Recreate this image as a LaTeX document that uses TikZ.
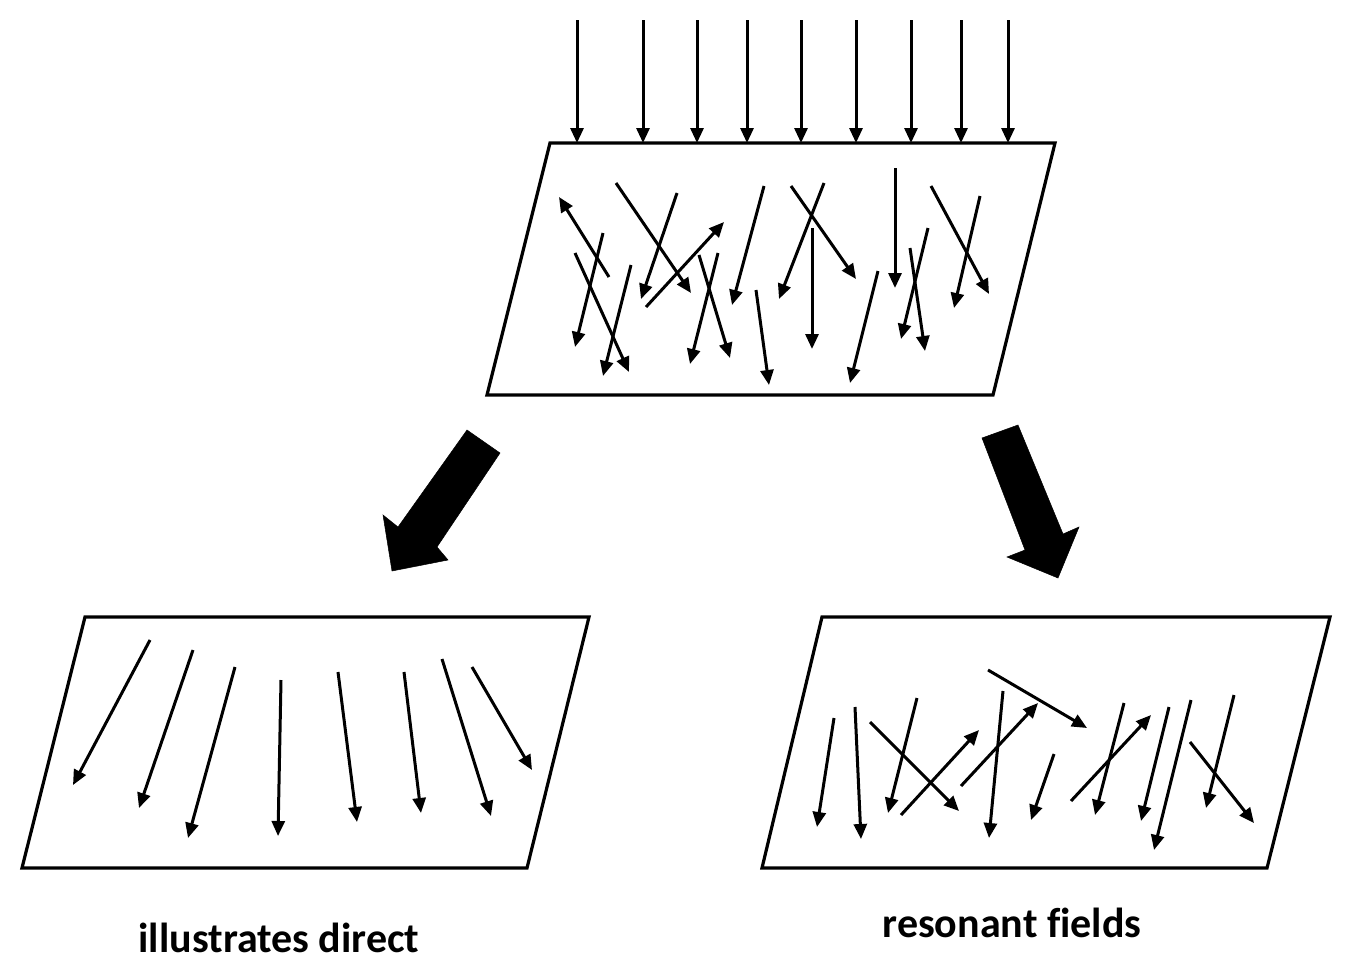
\documentclass[tikz,border=0pt]{standalone}
\usepackage{fontspec}
\newfontfamily\labfont{Carlito}[Ligatures=NoCommon]
\usetikzlibrary{arrows.meta}
\tikzset{
  plate/.style={line width=3.2pt, line join=miter},
  fa/.style={line width=3pt, -{Triangle[length=15pt,width=13pt]}},
  big/.style={fill=black, draw=black, line width=0.5pt, line join=miter},
  lab/.style={font=\labfont\bfseries\fontsize{42}{46}\selectfont, anchor=base, inner sep=0pt}
}
\begin{document}
\begin{tikzpicture}[x=1pt,y=-1pt]
\useasboundingbox (0,0) rectangle (1351,977);
% top plate
\draw[plate] (550,143) coordinate (tTL) -- (1055,143) coordinate (tTR) -- (993,395) coordinate (tBR) -- (487,395) coordinate (tBL) -- cycle;
% incoming vertical arrows
\foreach \x in {577,643,697,747,801,856,911,961,1008}
  \draw[fa] (\x,20) -- (\x,143);
% scattered arrows in top plate
\draw[fa] (609,277) -- (559,197);
\draw[fa] (603,233) -- (575,347);
\draw[fa] (575,253) -- (629,372);
\draw[fa] (631,265) -- (603,376);
\draw[fa] (616,183) -- (691,293);
\draw[fa] (677,193) -- (641,299);
\draw[fa] (646,307) -- (724,222);
\draw[fa] (699,255) -- (730,358);
\draw[fa] (718,253) -- (690,364);
\draw[fa] (764,186) -- (732,305);
\draw[fa] (756,290) -- (769,385);
\draw[fa] (791,186) -- (856,279);
\draw[fa] (824,183) -- (779,299);
\draw[fa] (812,228) -- (812,349);
\draw[fa] (878,271) -- (850,383);
\draw[fa] (895,168) -- (895,288);
\draw[fa] (928,228) -- (901,339);
\draw[fa] (910,248) -- (925,351);
\draw[fa] (931,186) -- (989,294);
\draw[fa] (980,196) -- (954,308);
% big arrows
\draw[big] (467,430) -- (500,453) -- (437,547) -- (448,560) -- (392,571) -- (383,515) -- (398,527) -- cycle;
\draw[big] (1018,425) -- (1063,534) -- (1079,527) -- (1058,578) -- (1007,557) -- (1025,550) -- (982,438) -- cycle;
% bottom-left plate
\draw[plate] (85,617) -- (589,617) -- (527,868) -- (22,868) -- cycle;
\draw[fa] (150,640) -- (73,785);
\draw[fa] (193,650) -- (139,808);
\draw[fa] (235,667) -- (188,838);
\draw[fa] (281,680) -- (278,836);
\draw[fa] (338,672) -- (357,822);
\draw[fa] (404,672) -- (421,813);
\draw[fa] (442,659) -- (491,816);
\draw[fa] (472,667) -- (532,770);
% bottom-right plate
\draw[plate] (822,617) -- (1330,617) -- (1267,868) -- (762,868) -- cycle;
\draw[fa] (834,718) -- (817,827);
\draw[fa] (855,707) -- (861,839);
\draw[fa] (917,698) -- (888,813);
\draw[fa] (870,722) -- (959,811);
\draw[fa] (901,815) -- (979,730);
\draw[fa] (961,786) -- (1038,703);
\draw[fa] (1003,691) -- (989,838);
\draw[fa] (988,670) -- (1087,728);
\draw[fa] (1054,754) -- (1031,820);
\draw[fa] (1071,801) -- (1151,715);
\draw[fa] (1124,703) -- (1095,815);
\draw[fa] (1169,707) -- (1141,821);
\draw[fa] (1191,700) -- (1154,850);
\draw[fa] (1234,695) -- (1206,808);
\draw[fa] (1190,742) -- (1254,823);
% labels
\node[lab] (l1) at (279,952) {illustrates direct};
\node[lab] (l2) at (1012,937) {resonant fields};
\end{tikzpicture}
\end{document}
